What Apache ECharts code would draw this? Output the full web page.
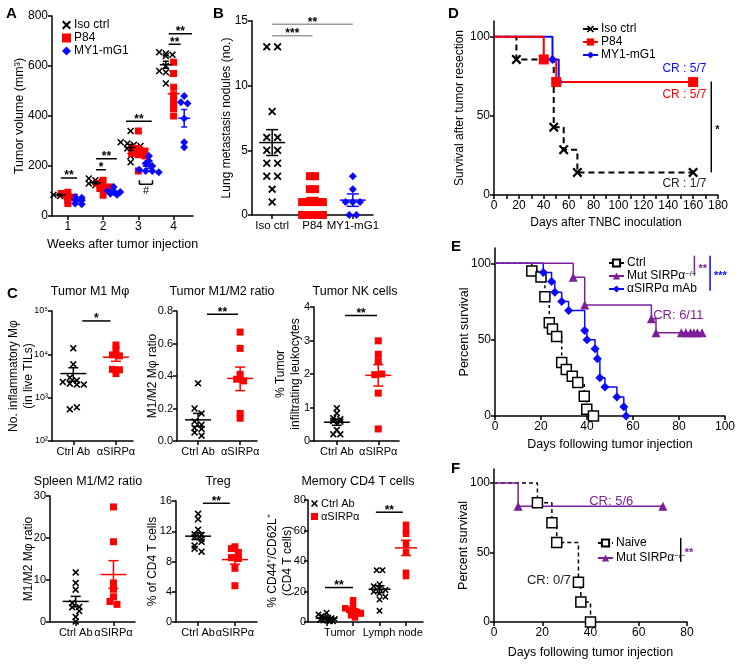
<!DOCTYPE html>
<html><head><meta charset="utf-8">
<script src="https://cdn.jsdelivr.net/npm/echarts@6.0.0/dist/echarts.min.js"></script>
<style>html,body{margin:0;padding:0;background:#fff;}#chart{width:744px;height:666px;}</style>
</head><body><div id="chart"></div>
<script>
// ================= DATA =================
// Panel A: tumor volume (mm3) per week, per group
const aWeekLabels = ['1','2','3','4'];
const aIso = [[90,85,80,78,75],[150,143,136,130,123,116],[340,295,290,285,280,270,255,240,215],[655,650,645,640,600,580,575,570,530]];
const aP84 = [[95,90,80,75,60,50],[143,130,116,116,110,103,83],[340,275,270,260,250,245,240,180],[615,570,515,485,460,440,430,400]];
const aMy1 = [[76,73,65,63,50,47],[116,103,96,96,89,85],[240,220,210,200,185,180,180,175],[480,455,450,390,295,275]];
const aIsoMean = [84,133,274,605], aIsoSem = [3,5,12,14];
const aP84Mean = [74,114,258,489], aP84Sem = [7,7,17,25];
const aMy1Mean = [62,98,199,391], aMy1Sem = [5,5,8,35];
const aSigSpans = [[0.8,1.26,152],[1.8,2.08,185],[1.8,2.39,229],[2.65,3.38,379],[3.86,4.2,687],[3.86,4.52,729]];
const aSigText = ['**','*','**','**','**','**'];
const aHashSpan = [[3.03,3.4,127,16]];
const aHashText = ['#'];
const aHashPos = [[3.215,100]];

// Panel B: lung metastasis nodules
const bCats = ['Iso ctrl','P84','MY1-mG1'];
const bIso = [13,13,8,6,6,5,5,4,4,3,3,2,1];
const bP84 = [3,3,2,2,1,1,1,1,1,0,0,0,0,0];
const bMy1 = [3,2,1,1,1,0,0];
const bMean = [5.6,1.05,1.15], bSem = [1.0,0.3,0.48];
const bSigSpans = [[1,2,13.85],[1,3,14.75]];
const bSigText = ['***','**'];

// Panel C
const cCats = ['Ctrl Ab','\u03b1SIRP\u03b1'];
const c1Ctrl = [13800,5900,2900,2500,2300,2100,2000,2000,540,600];
const c1Anti = [16400,12600,9700,9200,4500,4400,3600];
const c1Stats = [[3600,2400,4900],[8600,6900,10400]];
const c2Ctrl = [0.355,0.2,0.17,0.12,0.1,0.08,0.074,0.053,0.033];
const c2Anti = [0.67,0.57,0.41,0.38,0.37,0.17,0.14];
const c2Stats = [[0.13,0.09,0.17],[0.385,0.31,0.455]];
const c3Ctrl = [0.98,0.83,0.68,0.65,0.6,0.58,0.33,0.2,0.2];
const c3Anti = [2.99,2.59,2.39,1.98,2.0,1.43,0.36];
const c3Stats = [[0.56,0.47,0.65],[1.96,1.64,2.28]];
const c4Ctrl = [11.8,9.3,7.7,4.5,3.6,3.5,2.6,1.2,0.1];
const c4Anti = [27.4,19.1,9.3,7.8,6.0,4.9,4.2];
const c4Stats = [[4.9,3.6,6.1],[11.3,8.0,14.6]];
const c5Ctrl = [14.3,13.6,12.2,11.6,11.5,11.2,11.0,10.1,10.6,9.7,9.3];
const c5Anti = [9.95,9.7,9.2,8.5,8.4,7.1,4.8];
const c5Stats = [[11.35,10.9,11.8],[8.25,7.65,8.85]];
const c6Cats = ['Tumor','Lymph node'];
const c6CtrlTumor = [6,5,4,3,3,2.5,2,1.5,1,1,0.5,0.5];
const c6AntiTumor = [14.3,11,9,8,7,6.6,5.5,4.4,3];
const c6CtrlLymph = [34,34,24.8,23.5,22,21,19.8,18.7,16.5,14.7,7.3];
const c6AntiLymph = [63.7,57.8,59.8,51,45.7,30.1,32.3];
const c6Stats = [[2.5,2.0,3.0],[7.6,6.5,8.7],[21.5,19.2,23.8],[48.6,43.6,53.6]];
const c1Sig = [[1.21,1.87,59000]], c2Sig = [[1.21,1.95,0.78]], c3Sig = [[1.2,1.97,3.75]];
const c5Sig = [[1.13,1.86,15.7]], c6Sig = [[0.72,1.25,22.6],[1.68,2.19,72]];

// Panel D: survival after tumor resection
const dIsoDays = [0,18,48,56,67,160], dIsoSurv = [100,85.7,42.9,28.6,14.3,14.3];
const dP84Days = [0,40,50,160], dP84Surv = [100,85.7,71.4,71.4];
const dMy1Days = [0,47,52,160], dMy1Surv = [100,85.7,71.4,71.4];
const dNotes = [[153,80],[153,63.6],[153,7.4]];
const dNoteText = ['CR : 5/7','CR : 5/7','CR : 1/7'];
const dSig = [[174.6,71.7,14.3]], dSigText = ['*'];

// Panel E
const eCtrlDays = [0,16,20,21.7,23.6,25,26.8,29,31,33.6,36,38.8,39.9,42.8];
const eCtrlSurv = [100,95,91,78,61,57,52,35,30.5,26,22,13,4.5,0];
const eMutDays = [0,34,39,68,70,81,83,85,86.5,88,90];
const eMutSurv = [100,90.9,72.7,63.6,54.5,54.5,54.5,54.5,54.5,54.5,54.5];
const eAbDays = [0,21,24.6,26,29,32,39,40,43.5,44.5,45.6,47.8,53,56,57];
const eAbSurv = [100,94,88,81,75,69,56,50,44,37.5,25,19,12.5,6,0];
const eNotes = [[79.7,65.7]], eNoteText = ['CR: 6/11'];
const eSig = [[86.7,105,92],[93.5,105,82]], eSigText = ['**','***'];

// Panel F
const fNaiveDays = [0,18,24,26,35,36,40], fNaiveSurv = [100,85.7,71.4,57.1,28.6,14.3,0];
const fMutDays = [0,10,70], fMutSurv = [100,83.3,83.3];
const fNotes = [[48.6,86.4],[22.8,30.1]], fNoteText = ['CR: 5/6','CR: 0/7'];
const fSig = [[77.4,60.5,43.3]], fSigText = ['**'];

// Legend labels
const LN = {aIso:'Iso ctrl',aP84:'P84',aMy1:'MY1-mG1',dIso:'Iso ctrl',dP84:'P84',dMy1:'MY1-mG1',
  eCtrl:'Ctrl',eMut:'Mut SIRP\u03b1{s|\u2212/\u2212}',eAb:'\u03b1SIRP\u03b1 mAb',fNaive:'Naive',fMut:'Mut SIRP\u03b1{s|\u2212/\u2212}',
  c6Ctrl:'Ctrl Ab',c6Anti:'\u03b1SIRP\u03b1'};

// ================= LAYOUT / STYLE =================
const FONT = 'Arial, "Liberation Sans", Helvetica, sans-serif';
const BLACK = '#000', RED = '#ff0000', BLUE = '#0a0aff', PURPLE = '#7d1f99', GRAY = '#9a9a9a';
const X_PATH = 'path://M1.6,0 L5,3.4 L8.4,0 L10,1.6 L6.6,5 L10,8.4 L8.4,10 L5,6.6 L1.6,10 L0,8.4 L3.4,5 L0,1.6 Z';

const P = {
  A:{g:0,left:52,top:16,width:141,height:200,xmin:0.55,xmax:4.55,ymin:0,ymax:800},
  B:{g:1,left:252,top:21,width:121,height:194,xmin:0.5,xmax:3.5,ymin:0,ymax:15},
  C1:{g:2,left:52,top:311,width:81,height:130,xmin:0.5,xmax:2.4,ymin:100,ymax:100000,log:true},
  C2:{g:3,left:177,top:311,width:80,height:130,xmin:0.5,xmax:2.4,ymin:0,ymax:0.8},
  C3:{g:4,left:314,top:307,width:85,height:134,xmin:0.45,xmax:2.5,ymin:0,ymax:4},
  C4:{g:5,left:50,top:496,width:85,height:126,xmin:0.32,xmax:2.57,ymin:0,ymax:30},
  C5:{g:6,left:176,top:501,width:81,height:121,xmin:0.4,xmax:2.6,ymin:0,ymax:16},
  C6:{g:7,left:308,top:500,width:115,height:122,xmin:0.4,xmax:2.57,ymin:0,ymax:80},
  D:{g:8,left:494,top:21,width:224,height:174,xmin:0,xmax:180,ymin:0,ymax:110},
  E:{g:9,left:495,top:248,width:230,height:168,xmin:0,xmax:100,ymin:0,ymax:110},
  F:{g:10,left:494,top:469,width:193,height:153,xmin:0,xmax:80,ymin:0,ymax:110}
};

function merge(a,b){ const o=Object.assign({},a); for(const k in b){ if(b[k]&&typeof b[k]==='object'&&!Array.isArray(b[k])&&typeof b[k]!=='function'&&a[k]&&typeof a[k]==='object') o[k]=merge(a[k],b[k]); else o[k]=b[k]; } return o; }
const AXL = {color:'#000', width:1.5};
function xAx(cfg,o){ return merge({gridIndex:cfg.g,type:'value',min:cfg.xmin,max:cfg.xmax,
  axisLine:{show:true,onZero:false,lineStyle:AXL},axisTick:{show:true,length:4,lineStyle:AXL},
  axisLabel:{color:'#000',fontSize:12,margin:5,fontFamily:FONT},splitLine:{show:false},nameMoveOverlap:false,
  nameLocation:'middle',nameTextStyle:{color:'#000',fontSize:12,fontFamily:FONT}},o||{}); }
function yAx(cfg,o){ return merge({gridIndex:cfg.g,type:cfg.log?'log':'value',min:cfg.ymin,max:cfg.ymax,
  axisLine:{show:true,onZero:false,lineStyle:AXL},axisTick:{show:true,length:4,lineStyle:AXL},
  axisLabel:{color:'#000',fontSize:12,margin:4,fontFamily:FONT},splitLine:{show:false},nameMoveOverlap:false,
  nameLocation:'middle',nameRotate:90,nameTextStyle:{color:'#000',fontSize:12,fontFamily:FONT,lineHeight:15}},o||{}); }

function unitX(cfg){ return cfg.width/(cfg.xmax-cfg.xmin); }
function swarm(vals, center, cfg, size, spacing){
  const xu = unitX(cfg);
  const yu = cfg.log ? cfg.height/(Math.log10(cfg.ymax)-Math.log10(cfg.ymin)) : cfg.height/(cfg.ymax-cfg.ymin);
  const rows = {};
  vals.forEach((v,i)=>{ const py=(cfg.log?Math.log10(v):v)*yu; const r=Math.round(py/(size*0.85)); (rows[r]=rows[r]||[]).push(i); });
  const out = new Array(vals.length);
  Object.values(rows).forEach(idx=>{ const n=idx.length; idx.forEach((i,k)=>{ out[i]=[center+((k-(n-1)/2)*size*(spacing||1))/xu, vals[i]]; }); });
  return out;
}
function scatter(cfg,name,data,symbol,size,color,extra){
  return merge({type:'scatter',name,xAxisIndex:cfg.g,yAxisIndex:cfg.g,data,symbol,symbolSize:size,
    itemStyle:{color,opacity:1},emphasis:{disabled:true},z:3,silent:true},extra||{});
}
function Lseg(a,b,color,w){ return {type:'line',shape:{x1:a[0],y1:a[1],x2:b[0],y2:b[1]},style:{stroke:color,lineWidth:w||1.5}}; }
function txt(x,y,text,font,fill,align,va){ return {type:'text',x,y,style:{text,font,fill,align,verticalAlign:va,textAlign:align,textVerticalAlign:va}}; }
function errSeries(cfg,items,color,halfPx,capPx){
  const hw=halfPx/unitX(cfg), cw=capPx/unitX(cfg);
  return {type:'custom',xAxisIndex:cfg.g,yAxisIndex:cfg.g,silent:true,clip:false,z:4,encode:{x:0,y:[1,2,3]},data:items,
    renderItem(params,api){ const x=api.value(0),m=api.value(1),lo=api.value(2),hi=api.value(3);
      return {type:'group',children:[Lseg(api.coord([x-hw,m]),api.coord([x+hw,m]),color),Lseg(api.coord([x,lo]),api.coord([x,hi]),color),
        Lseg(api.coord([x-cw,lo]),api.coord([x+cw,lo]),color),Lseg(api.coord([x-cw,hi]),api.coord([x+cw,hi]),color)]}; }};
}
function sigSeries(cfg,items,texts,lineColor,textColor){
  return {type:'custom',xAxisIndex:cfg.g,yAxisIndex:cfg.g,silent:true,clip:false,z:5,encode:{x:[0,1],y:2},data:items,
    renderItem(params,api){ const x1=api.value(0),x2=api.value(1),y=api.value(2),tip=api.value(3)||0;
      const a=api.coord([x1,y]), b=api.coord([x2,y]); const ch=[Lseg(a,b,lineColor)];
      if(tip){ ch.push(Lseg(a,api.coord([x1,y+tip]),lineColor)); ch.push(Lseg(b,api.coord([x2,y+tip]),lineColor)); }
      const t=texts[params.dataIndex]; if(t) ch.push(txt((a[0]+b[0])/2,a[1]+4,t,'bold 12px '+FONT,textColor,'center','bottom'));
      return {type:'group',children:ch}; }};
}
function noteSeries(cfg,items,texts,colors,font){
  return {type:'custom',xAxisIndex:cfg.g,yAxisIndex:cfg.g,silent:true,clip:false,z:6,data:items,
    renderItem(params,api){ const p=api.coord([api.value(0),api.value(1)]);
      return txt(p[0],p[1],texts[params.dataIndex],font,colors[params.dataIndex],'center','middle'); }};
}
function vSigSeries(cfg,items,texts,lineColors,textColors){
  return {type:'custom',xAxisIndex:cfg.g,yAxisIndex:cfg.g,silent:true,clip:false,z:6,encode:{x:0,y:[1,2]},data:items,
    renderItem(params,api){ const x=api.value(0),y1=api.value(1),y2=api.value(2); const a=api.coord([x,y1]), b=api.coord([x,y2]);
      const i=params.dataIndex;
      return {type:'group',children:[Lseg(a,b,lineColors[i]),txt(a[0]+4,(a[1]+b[1])/2+3,texts[i],'bold 11px '+FONT,textColors[i],'left','middle')]}; }};
}
function km(cfg,name,xs,ys,color,symbol,size,dash,width,itemStyle){
  return {type:'line',name,xAxisIndex:cfg.g,yAxisIndex:cfg.g,step:'end',
    data:xs.map((x,i)=> i===0?{value:[x,ys[i]],symbol:'none'}:[x,ys[i]]),
    symbol,symbolSize:size,showSymbol:true,showAllSymbol:true,
    lineStyle:{color,width,type:dash||'solid'},itemStyle:itemStyle||{color},emphasis:{disabled:true},silent:true,z:3};
}

// ================= BUILD =================
const grids=[], xAxes=[], yAxes=[], series=[];
Object.values(P).forEach(c=>grids.push({left:c.left,top:c.top,width:c.width,height:c.height,containLabel:false}));
const catX = (vals,labels)=>({axisLabel:{customValues:vals,formatter:v=>labels[Math.round(v)-1]},axisTick:{customValues:vals}});

// A
xAxes.push(xAx(P.A,merge(catX([1,2,3,4],aWeekLabels),{name:'Weeks after tumor injection',nameGap:22,nameTextStyle:{fontSize:12.5}})));
yAxes.push(yAx(P.A,{interval:200,name:'Tumor volume (mm\u00b3)',nameGap:25,nameTextStyle:{fontSize:12.5}}));
// B
xAxes.push(xAx(P.B,merge(catX([1,2,3],bCats),{axisLabel:{fontSize:11.5}})));
yAxes.push(yAx(P.B,{interval:5,name:'Lung metastasis nodules (no.)',nameGap:18,nameTextStyle:{fontSize:12}}));
// C1..C6
const cX = merge(catX([1,2],cCats),{axisLabel:{fontSize:11}});
const supers = {2:'\u00b2',3:'\u00b3',4:'\u2074',5:'\u2075'};
xAxes.push(xAx(P.C1,cX));
yAxes.push(yAx(P.C1,{axisLabel:{fontSize:9,formatter:v=>'10'+supers[Math.round(Math.log10(v))]},name:'No. inflammatory M\u03c6\n(in live TILs)',nameGap:16}));
xAxes.push(xAx(P.C2,cX));
yAxes.push(yAx(P.C2,{interval:0.2,axisLabel:{fontSize:11,formatter:v=>v.toFixed(1)},name:'M1/M2 M\u03c6 ratio',nameGap:17}));
xAxes.push(xAx(P.C3,cX));
yAxes.push(yAx(P.C3,{interval:1,axisLabel:{fontSize:11},name:'% Tumor\ninfiltrating leukocytes',nameGap:11}));
xAxes.push(xAx(P.C4,cX));
yAxes.push(yAx(P.C4,{interval:10,axisLabel:{fontSize:11},name:'M1/M2 M\u03c6 ratio',nameGap:14}));
xAxes.push(xAx(P.C5,cX));
yAxes.push(yAx(P.C5,{interval:4,axisLabel:{fontSize:11},name:'% of CD4 T cells',nameGap:16}));
xAxes.push(xAx(P.C6,{axisLabel:{fontSize:11,customValues:[1,2],formatter:v=>c6Cats[Math.round(v)-1]},axisTick:{customValues:[0.75,1.25,1.75,2.25]}}));
yAxes.push(yAx(P.C6,{interval:20,axisLabel:{fontSize:11,margin:2},name:'% CD44\u207a/CD62L\u207a\n(CD4 T cells)',nameGap:13}));
// D,E,F
const survY = {axisLabel:{customValues:[0,50,100]},axisTick:{customValues:[0,50,100]}};
xAxes.push(xAx(P.D,{interval:20,minorTick:{show:true,splitNumber:2,length:4,lineStyle:AXL},name:'Days after TNBC inoculation',nameGap:22}));
yAxes.push(yAx(P.D,merge(survY,{name:'Survival after tumor resection',nameGap:27})));
xAxes.push(xAx(P.E,{interval:20,name:'Days following tumor injection',nameGap:22,nameTextStyle:{fontSize:12.5}}));
yAxes.push(yAx(P.E,merge(survY,{name:'Percent survival',nameGap:23,nameTextStyle:{fontSize:12.5}})));
xAxes.push(xAx(P.F,{interval:20,name:'Days following tumor injection',nameGap:24,nameTextStyle:{fontSize:12.5}}));
yAxes.push(yAx(P.F,merge(survY,{name:'Percent survival',nameGap:23,nameTextStyle:{fontSize:12.5}})));

// ---- A series
const aOff = [-0.22,0.0,0.3];
[[aIso,'aIso',X_PATH,7,BLACK,aIsoMean,aIsoSem],[aP84,'aP84','rect',7,RED,aP84Mean,aP84Sem],[aMy1,'aMy1','diamond',8,BLUE,aMy1Mean,aMy1Sem]].forEach((g,gi)=>{
  let pts=[]; g[0].forEach((vals,w)=>{ pts=pts.concat(swarm(vals,w+1+aOff[gi],P.A,6,1.1)); });
  series.push(scatter(P.A,g[1],pts,g[2],g[3],g[4]));
  series.push(errSeries(P.A,g[5].map((m,w)=>[w+1+aOff[gi],m,m-g[6][w],m+g[6][w]]),g[4],6,3));
});
series.push(sigSeries(P.A,aSigSpans,aSigText,BLACK,BLACK));
series.push(sigSeries(P.A,aHashSpan,[''],BLACK,BLACK));
series.push(noteSeries(P.A,aHashPos,aHashText,[BLACK],'11px '+FONT));

// ---- B
series.push(scatter(P.B,'bIso',swarm(bIso,1,P.B,8,1.35),X_PATH,8,BLACK));
series.push(scatter(P.B,'bP84',swarm(bP84,2,P.B,8,0.65),'rect',8,RED));
series.push(scatter(P.B,'bMy1',swarm(bMy1,3,P.B,8,0.9),'diamond',8,BLUE));
[BLACK,RED,BLUE].forEach((c,i)=>series.push(errSeries(P.B,[[i+1,bMean[i],bMean[i]-bSem[i],bMean[i]+bSem[i]]],c,13,6)));
series.push(sigSeries(P.B,bSigSpans,bSigText,GRAY,BLACK));

// ---- C panels
function cPanel(cfg,ctrl,anti,stats,sig){
  series.push(scatter(cfg,'c'+cfg.g+'ctrl',swarm(ctrl,1,cfg,7,1.0),X_PATH,7,BLACK));
  series.push(scatter(cfg,'c'+cfg.g+'anti',swarm(anti,2,cfg,7,1.0),'rect',7,RED));
  series.push(errSeries(cfg,[[1,stats[0][0],stats[0][1],stats[0][2]]],BLACK,13,5));
  series.push(errSeries(cfg,[[2,stats[1][0],stats[1][1],stats[1][2]]],RED,13,5));
  if(sig) series.push(sigSeries(cfg,sig,sig.map(()=>'**'),BLACK,BLACK));
}
cPanel(P.C1,c1Ctrl,c1Anti,c1Stats,null);
series.push(sigSeries(P.C1,c1Sig,['*'],BLACK,BLACK));
cPanel(P.C2,c2Ctrl,c2Anti,c2Stats,c2Sig);
cPanel(P.C3,c3Ctrl,c3Anti,c3Stats,c3Sig);
cPanel(P.C4,c4Ctrl,c4Anti,c4Stats,null);
cPanel(P.C5,c5Ctrl,c5Anti,c5Stats,c5Sig);
// C6 grouped
series.push(scatter(P.C6,'c6Ctrl',swarm(c6CtrlTumor,0.75,P.C6,6.5,0.5).concat(swarm(c6CtrlLymph,1.75,P.C6,6.5,0.9)),X_PATH,6.5,BLACK));
series.push(scatter(P.C6,'c6Anti',swarm(c6AntiTumor,1.25,P.C6,6.5,0.6).concat(swarm(c6AntiLymph,2.25,P.C6,6.5,1.0)),'rect',6.5,RED));
[0.75,1.25,1.75,2.25].forEach((x,i)=>series.push(errSeries(P.C6,[[x,c6Stats[i][0],c6Stats[i][1],c6Stats[i][2]]],i%2?RED:BLACK,11,5)));
series.push(sigSeries(P.C6,c6Sig,['**','**'],BLACK,BLACK));

// ---- D
series.push(km(P.D,'dIso',dIsoDays,dIsoSurv,BLACK,X_PATH,10,[6,4],2));
series.push(km(P.D,'dMy1',dMy1Days,dMy1Surv,BLUE,'diamond',9,'solid',2));
series.push(km(P.D,'dP84',dP84Days,dP84Surv,RED,'rect',10,'solid',2));
series.push(noteSeries(P.D,dNotes,dNoteText,[BLUE,RED,'#222'],'12px '+FONT));
series.push(vSigSeries(P.D,dSig,dSigText,[BLACK],[BLACK]));

// ---- E
series.push(km(P.E,'eCtrl',eCtrlDays,eCtrlSurv,BLACK,'rect',10,[3,3],1.5,{color:'#fff',borderColor:BLACK,borderWidth:1.5}));
series.push(km(P.E,'eAb',eAbDays,eAbSurv,BLUE,'diamond',9,'solid',1.5));
series.push(km(P.E,'eMut',eMutDays,eMutSurv,PURPLE,'triangle',9,'solid',1.5));
series.push(noteSeries(P.E,eNotes,eNoteText,[PURPLE],'13px '+FONT));
series.push(vSigSeries(P.E,eSig,eSigText,[PURPLE,BLUE],[PURPLE,BLUE]));

// ---- F
series.push(km(P.F,'fNaive',fNaiveDays,fNaiveSurv,BLACK,'rect',10,[4,3],1.5,{color:'#fff',borderColor:BLACK,borderWidth:1.5}));
series.push(km(P.F,'fMut',fMutDays,fMutSurv,PURPLE,'triangle',9,'solid',1.5));
series.push(noteSeries(P.F,fNotes,fNoteText,[PURPLE,'#222'],'13px '+FONT));
series.push(vSigSeries(P.F,fSig,fSigText,[BLACK],[PURPLE]));

// ---- Legends
const legBase = {orient:'vertical',selectedMode:false,padding:0,itemGap:1,
  textStyle:{fontSize:12,color:'#000',fontFamily:FONT,padding:[0,0,0,-2],rich:{s:{fontSize:7.5,verticalAlign:'top',fontFamily:FONT,color:'#000'}}},formatter:n=>LN[n]};
const legends = [
  merge(legBase,{data:['aIso','aP84','aMy1'],left:62,top:19,itemWidth:9,itemHeight:9}),
  merge(legBase,{data:['dIso','dP84','dMy1'],left:582,top:23,itemWidth:15,itemHeight:9}),
  merge(legBase,{data:['eCtrl','eMut','eAb'],left:608,top:257,itemWidth:15,itemHeight:9}),
  merge(legBase,{data:['fNaive','fMut'],left:597,top:537,itemWidth:15,itemHeight:9,itemGap:3}),
  merge(legBase,{data:['c6Ctrl','c6Anti'],left:311,top:498,itemWidth:7,itemHeight:7,itemGap:2,textStyle:{fontSize:11}})
];

// ---- Static text (panel letters, subplot titles)
const LF = 'bold 15px '+FONT, TF = '12.5px '+FONT;
const gtext = (x,y,text,font,align)=>({type:'text',x,y,silent:true,style:{text,font,fill:'#000',align:align||'left',verticalAlign:'middle',textAlign:align||'left',textVerticalAlign:'middle'}});
const graphics = [
  gtext(6,14,'A',LF), gtext(213,14,'B',LF), gtext(7,294,'C',LF), gtext(448,14,'D',LF), gtext(451,247,'E',LF), gtext(451,469,'F',LF),
  gtext(90,292,'Tumor M1 M\u03c6',TF,'center'), gtext(222,292,'Tumor M1/M2 ratio',TF,'center'), gtext(355,292,'Tumor NK cells',TF,'center'),
  gtext(88,482,'Spleen M1/M2 ratio',TF,'center'), gtext(218,482,'Treg',TF,'center'), gtext(358,482,'Memory CD4 T cells',TF,'center')
];

const chart = echarts.init(document.getElementById('chart'),null,{renderer:'canvas'});
chart.setOption({animation:false,backgroundColor:'#fff',textStyle:{fontFamily:FONT},
  grid:grids,xAxis:xAxes,yAxis:yAxes,series,legend:legends,graphic:graphics});
</script></body></html>
